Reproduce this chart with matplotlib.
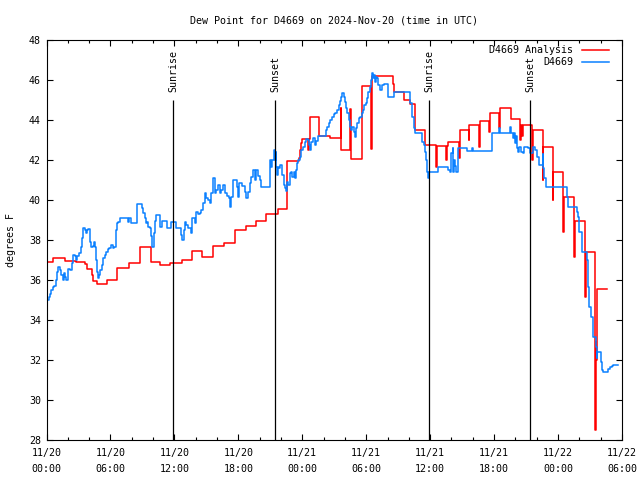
import matplotlib
matplotlib.use("Agg")
import matplotlib.pyplot as plt
from matplotlib.ticker import MultipleLocator

plt.rcParams['font.family'] = ['DejaVu Sans Mono']
FS = 7.2

# time axis: hours since 2024-11-20 00:00 UTC
analysis_hours = [0.0, 0.59, 1.76, 2.79, 3.63, 3.78, 4.29, 4.41, 4.72, 5.66,
                  6.64, 7.70, 8.73, 9.77, 10.68, 11.62, 12.71, 13.65, 14.62, 15.62,
                  16.62, 17.66, 18.75, 19.69, 20.63, 21.72, 22.57, 23.69, 23.8, 23.9,
                  23.98, 24.55, 24.62, 24.70, 25.54, 26.58, 27.62, 27.68, 28.50, 28.56,
                  29.65, 30.45, 30.52, 32.52, 32.59, 33.56, 34.09, 34.56, 35.50, 36.55,
                  36.62, 37.50, 37.56, 37.69, 38.70, 38.76, 38.79, 39.60, 39.66, 40.60,
                  40.67, 41.52, 41.60, 42.46, 42.54, 43.55, 44.45, 44.49, 44.66, 44.72,
                  45.55, 45.61, 46.55, 46.61, 47.50, 47.55, 48.49, 48.56, 49.50, 49.58,
                  50.55, 50.62, 51.44, 51.52, 51.58, 51.66, 52.62]
analysis_dewp = [36.9, 37.08, 36.97, 36.9, 36.8, 36.55, 36.25, 35.97, 35.78, 36.0,
                 36.6, 36.85, 37.63, 36.9, 36.75, 36.85, 37.0, 37.45, 37.13, 37.68,
                 37.83, 38.48, 38.7, 38.97, 39.28, 39.53, 41.97, 42.1, 42.5, 42.83,
                 43.03, 42.5, 43.03, 44.13, 43.2, 43.1, 44.6, 42.5, 44.55, 42.03,
                 45.7, 42.55, 46.2, 45.8, 45.38, 45.0, 44.8, 43.5, 42.75, 41.67,
                 42.7, 42.0, 42.7, 42.88, 42.1, 42.88, 43.5, 43.0, 43.73, 42.65,
                 43.97, 43.4, 44.33, 43.6, 44.58, 44.05, 43.0, 43.75, 43.2, 43.75,
                 42.0, 43.5, 41.0, 42.63, 40.0, 41.42, 38.4, 40.17, 37.15, 38.95,
                 35.15, 37.38, 28.5, 32.9, 32.0, 35.53, 35.53]

obs_hours = [0.0, 0.06, 0.19, 0.32, 0.44, 0.59, 0.75, 0.91, 1.0, 1.12,
             1.25, 1.38, 1.53, 1.63, 1.75, 1.85, 2.06, 2.2, 2.38, 2.5,
             2.65, 2.78, 2.9, 3.03, 3.25, 3.35, 3.44, 3.6, 3.72, 3.82,
             3.94, 4.04, 4.19, 4.35, 4.44, 4.57, 4.66, 4.76, 4.82, 4.91,
             5.04, 5.2, 5.29, 5.45, 5.6, 5.76, 5.9, 6.07, 6.23, 6.38,
             6.48, 6.64, 6.75, 6.89, 7.64, 7.75, 7.95, 8.48, 8.51, 8.95,
             9.08, 9.2, 9.3, 9.4, 9.52, 9.67, 9.78, 9.92, 10.05, 10.14,
             10.23, 10.67, 10.86, 11.3, 11.71, 12.11, 12.4, 12.64, 12.74, 12.9,
             12.96, 13.1, 13.27, 13.52, 13.65, 13.9, 14.05, 14.2, 14.37, 14.52,
             14.68, 14.84, 14.99, 15.15, 15.31, 15.46, 15.62, 15.78, 15.95, 16.09,
             16.25, 16.4, 16.56, 16.71, 16.9, 17.12, 17.18, 17.34, 17.5, 17.87,
             17.97, 18.06, 18.3, 18.59, 18.75, 18.9, 19.06, 19.22, 19.38, 19.53,
             19.69, 19.85, 20.0, 20.16, 20.94, 21.0, 21.1, 21.2, 21.32, 21.41,
             21.5, 21.57, 21.65, 21.75, 21.85, 21.95, 22.13, 22.26, 22.35, 22.44,
             22.57, 22.7, 22.82, 22.95, 23.07, 23.19, 23.3, 23.38, 23.51, 23.6,
             23.76, 23.91, 24.07, 24.23, 24.38, 24.5, 24.63, 24.7, 24.85, 25.01,
             25.17, 25.3, 25.48, 26.2, 26.33, 26.48, 26.64, 26.79, 26.95, 27.11,
             27.26, 27.42, 27.51, 27.61, 27.7, 27.83, 27.92, 28.02, 28.14, 28.24,
             28.36, 28.45, 28.55, 28.7, 28.83, 28.96, 29.08, 29.17, 29.3, 29.46,
             29.58, 29.71, 29.83, 29.96, 30.08, 30.21, 30.33, 30.43, 30.52, 30.61,
             30.71, 30.8, 30.9, 31.02, 31.12, 31.28, 31.5, 31.65, 32.0, 32.6,
             34.09, 34.25, 34.34, 34.46, 34.56, 35.28, 35.41, 35.5, 35.59, 35.72,
             35.81, 35.91, 36.78, 37.72, 37.85, 38.0, 38.1, 38.16, 38.25, 38.35,
             38.47, 38.63, 39.41, 39.88, 40.04, 41.76, 42.5, 42.58, 43.48, 43.6,
             43.73, 43.86, 43.95, 44.02, 44.11, 44.27, 44.36, 44.5, 44.67, 44.8,
             45.2, 45.36, 45.61, 45.83, 46.0, 46.14, 46.24, 46.5, 46.56, 46.61,
             46.71, 46.83, 48.81, 48.87, 48.93, 49.81, 49.86, 49.93, 50.0, 50.25,
             50.75, 50.84, 50.93, 51.06, 51.31, 51.53, 51.62, 51.68, 52.0, 52.09,
             52.18, 52.72, 52.87, 53.03, 53.19, 53.62]
obs_dewp = [34.75, 35.0, 35.13, 35.3, 35.5, 35.67, 35.7, 36.0, 36.42, 36.63,
            36.5, 36.25, 36.0, 36.33, 36.17, 36.0, 36.55, 36.5, 36.87, 37.25,
            37.2, 37.0, 37.2, 37.37, 37.67, 38.08, 38.58, 38.5, 38.33, 38.5,
            38.53, 37.92, 37.67, 37.7, 37.92, 37.67, 37.0, 36.42, 36.08, 36.25,
            36.5, 36.75, 37.08, 37.25, 37.42, 37.55, 37.6, 37.75, 37.58, 37.67,
            38.5, 38.83, 38.9, 39.08, 38.88, 39.08, 38.83, 39.25, 39.78, 39.58,
            39.37, 39.08, 38.83, 38.9, 38.67, 38.58, 38.2, 37.67, 38.33, 38.95,
            39.25, 38.67, 38.95, 38.58, 38.92, 38.58, 38.6, 38.25, 38.0, 38.5,
            38.92, 38.75, 38.58, 38.33, 39.08, 38.83, 39.42, 39.3, 39.33, 39.5,
            39.83, 40.33, 40.08, 40.0, 39.83, 40.33, 41.08, 40.33, 40.5, 40.75,
            40.33, 40.5, 40.75, 40.33, 40.2, 40.08, 39.67, 40.17, 41.0, 40.67,
            40.17, 40.83, 40.7, 40.42, 40.08, 40.4, 40.83, 41.17, 41.5, 41.0,
            41.5, 41.2, 41.0, 40.67, 41.17, 42.0, 41.67, 42.0, 42.5, 42.0,
            42.4, 41.67, 41.25, 41.67, 41.58, 41.75, 41.25, 40.75, 40.58, 40.47,
            40.92, 40.75, 41.33, 41.42, 41.17, 41.42, 41.1, 41.5, 41.83, 42.0,
            42.17, 42.5, 42.67, 42.92, 43.03, 43.0, 42.75, 42.5, 42.92, 43.08,
            42.75, 42.95, 43.2, 43.5, 43.67, 43.83, 44.0, 44.13, 44.28, 44.37,
            44.5, 44.75, 44.97, 45.17, 45.37, 45.33, 45.17, 44.92, 44.58, 44.33,
            44.0, 43.67, 43.5, 43.67, 43.42, 43.17, 43.58, 43.83, 44.08, 44.17,
            44.33, 44.5, 44.75, 44.87, 45.08, 45.42, 45.67, 46.0, 46.33, 46.08,
            46.25, 45.92, 46.17, 46.08, 45.75, 45.5, 45.75, 45.8, 45.13, 45.38,
            44.83, 44.37, 44.17, 43.58, 43.33, 42.92, 42.75, 42.42, 42.0, 41.42,
            41.08, 41.42, 41.63, 41.5, 41.42, 42.33, 42.58, 41.42, 42.0, 41.7,
            41.42, 42.58, 42.45, 42.58, 42.45, 43.33, 43.58, 43.33, 43.63, 43.33,
            43.08, 43.33, 42.83, 43.2, 42.58, 42.42, 42.67, 42.42, 42.37, 42.67,
            42.6, 42.37, 42.67, 42.5, 42.17, 42.13, 41.75, 41.75, 42.3, 41.58,
            41.08, 40.63, 40.63, 40.17, 39.63, 39.42, 39.17, 38.58, 38.42, 37.42,
            37.0, 35.67, 34.67, 34.13, 33.13, 32.67, 32.08, 32.42, 31.92, 31.5,
            31.42, 31.53, 31.63, 31.7, 31.75, 31.75]

sun_hours = [11.86, 21.46, 35.88, 45.36]
sun_labels = ["Sunrise", "Sunset", "Sunrise", "Sunset"]

tick_hours = [0, 6, 12, 18, 24, 30, 36, 42, 48, 54]
tick_labels = ["11/20\n00:00", "11/20\n06:00", "11/20\n12:00", "11/20\n18:00",
               "11/21\n00:00", "11/21\n06:00", "11/21\n12:00", "11/21\n18:00",
               "11/22\n00:00", "11/22\n06:00"]

red = '#ff0000'
blue = '#0a80ff'

fig = plt.figure(figsize=(6.4, 4.8), dpi=100)
ax = fig.add_axes([46.5 / 640, 40 / 480, 575.5 / 640, 400 / 480])

ax.step(analysis_hours, analysis_dewp, where='post', color=red, lw=1.1)
ax.step(obs_hours, obs_dewp, where='post', color=blue, lw=1.1)

# sunrise / sunset markers
ax.vlines(sun_hours, 28, 45, color='black', lw=0.9)
for h, lab in zip(sun_hours, sun_labels):
    ax.text(h, 45.4, lab, rotation=90, ha='center', va='bottom', fontsize=FS)

ax.set_xlim(0, 54)
ax.set_ylim(28, 48)
ax.set_xticks(tick_hours)
ax.set_xticklabels(tick_labels, linespacing=1.7)
ax.xaxis.set_minor_locator(MultipleLocator(2))
ax.yaxis.set_major_locator(MultipleLocator(2))

ax.tick_params(which='both', direction='in', top=True, right=True, width=0.8, labelsize=FS)
ax.tick_params(which='major', length=4.5)
ax.tick_params(which='minor', length=2.5)
ax.tick_params(axis='x', pad=6)
ax.tick_params(axis='y', pad=4)
for s in ax.spines.values():
    s.set_linewidth(0.8)

ax.set_ylabel('degrees F', fontsize=FS, labelpad=9)
ax.set_title('Dew Point for D4669 on 2024-Nov-20 (time in UTC)', fontsize=FS, pad=12)

# gnuplot-style key: right-justified text, then the line sample
key_rows = [("D4669 Analysis", red, 0.976), ("D4669", blue, 0.945)]
for lab, col, yy in key_rows:
    ax.text(0.9157, yy, lab, transform=ax.transAxes, ha='right', va='center', fontsize=FS)
    ax.plot([0.930, 0.978], [yy, yy], transform=ax.transAxes, color=col, lw=1.1)

fig.savefig('out.png', dpi=100)
